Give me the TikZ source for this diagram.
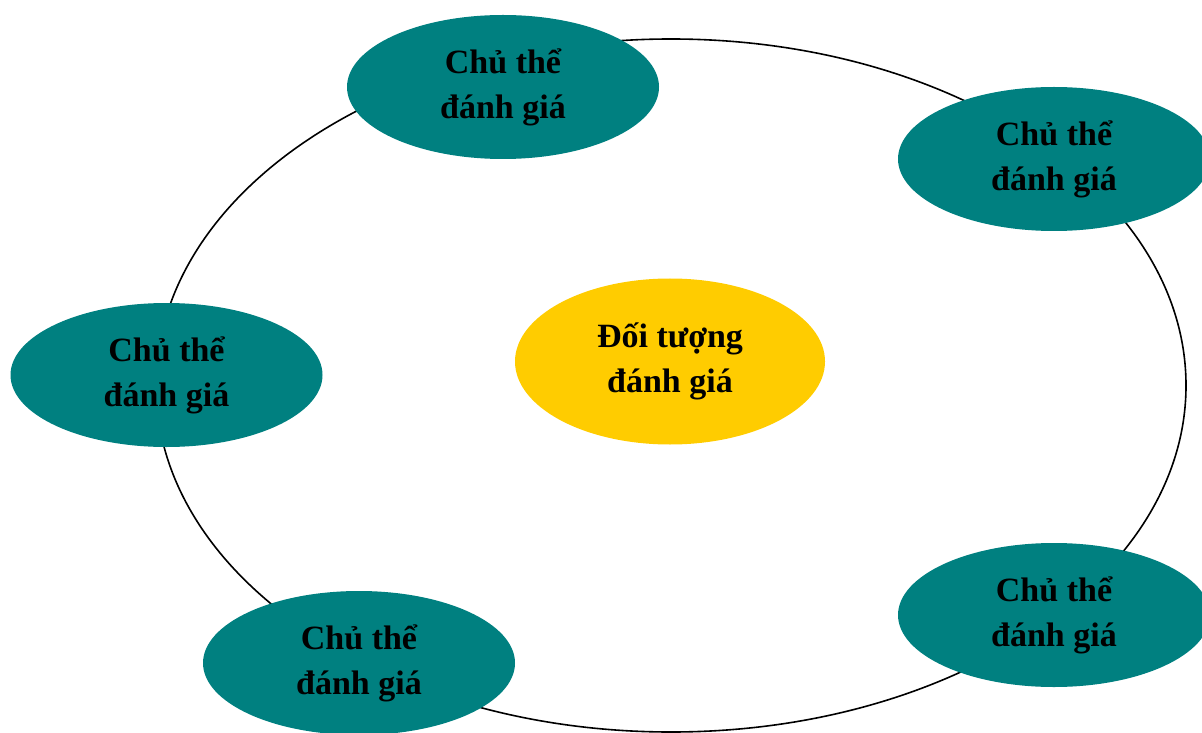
\documentclass[tikz,border=0pt]{standalone}
\usepackage{fontspec}
\setmainfont{Liberation Serif}
\usepackage{tikz}
\usetikzlibrary{shapes.geometric}
\definecolor{subjteal}{HTML}{008080}
\definecolor{objyellow}{HTML}{FFCC00}

\begin{document}
\begin{tikzpicture}[
  x=0.5pt, y=-0.5pt,
  ring/.style={draw, ellipse, line width=0.8pt, inner sep=0pt, minimum width=515pt, minimum height=346.5pt},
  subject/.style={ellipse, fill=subjteal, inner sep=0pt, minimum width=156pt, minimum height=72pt, align=center, font=\fontsize{17}{22.5}\selectfont\bfseries},
  target/.style={ellipse, fill=objyellow, inner sep=0pt, minimum width=155pt, minimum height=83pt, align=center, font=\fontsize{17}{22.5}\selectfont\bfseries}
]
  \useasboundingbox (0,0) rectangle (1202,732);
  \node[ring] (ring) at (671,385.5) {};

  \node[subject] (top) at (503,87) {Chủ thể\\đánh giá};
  \node[subject] (topright) at (1054,159) {Chủ thể\\đánh giá};
  \node[subject] (left) at (166.5,375) {Chủ thể\\đánh giá};
  \node[subject] (botleft) at (359,663) {Chủ thể\\đánh giá};
  \node[subject] (botright) at (1054,615) {Chủ thể\\đánh giá};

  \node[target] (object) at (670,361.5) {Đối tượng\\đánh giá};
\end{tikzpicture}
\end{document}
